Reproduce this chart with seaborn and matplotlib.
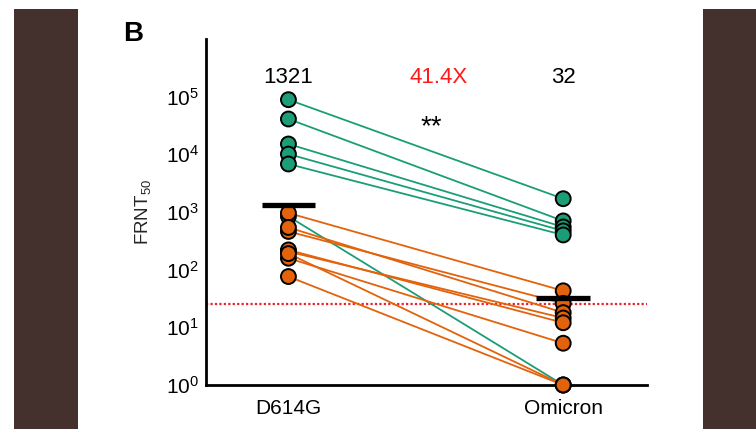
import matplotlib
matplotlib.use("Agg")
import matplotlib.pyplot as plt
from matplotlib.patches import Rectangle
import numpy as np
import pandas as pd
import seaborn as sns

# Paired FRNT50 titres per subject (D614G -> Omicron)
variants = ["D614G", "Omicron"]
group_a_d614g = [88700, 41000, 15100, 10100, 6800, 840]
group_a_omicron = [1700, 700, 550, 470, 400, 1]
group_b_d614g = [960, 460, 540, 206, 220, 158, 190, 76]
group_b_omicron = [43, 26, 18, 14.5, 12, 5.3, 1, 1]
group_mean = [1321, 32]
mean_labels = ["1321", "32"]
fold_label = "41.4X"
sig_label = "**"
detection_limit = 25
ytick_exps = [0, 1, 2, 3, 4, 5]

green = "#1b9e77"
orange = "#e3620c"

rows = []
sid = 0
for grp, d, o in (("A", group_a_d614g, group_a_omicron),
                  ("B", group_b_d614g, group_b_omicron)):
    for a, b in zip(d, o):
        rows.append(dict(subject=sid, group=grp, variant=variants[0], pos=0, value=a))
        rows.append(dict(subject=sid, group=grp, variant=variants[1], pos=1, value=b))
        sid += 1
df = pd.DataFrame(rows)

sns.set_theme(style="white")
plt.rcParams["font.family"] = ["Liberation Sans", "DejaVu Sans"]
plt.rcParams["mathtext.fontset"] = "custom"
plt.rcParams["mathtext.rm"] = "Liberation Sans"
plt.rcParams["mathtext.it"] = "Liberation Sans:italic"
plt.rcParams["mathtext.bf"] = "Liberation Sans:bold"

W, H = 756, 429
fig = plt.figure(figsize=(W / 100, H / 100), dpi=100)
fig.patch.set_facecolor("white")

# dark side panels
for x0, x1 in ((14, 78), (703, 756)):
    fig.add_artist(Rectangle((x0 / W, 0), (x1 - x0) / W, (H - 9) / H,
                             transform=fig.transFigure, color="#44312e", lw=0, zorder=0))

ax = fig.add_axes([206 / W, 1 - 385 / H, (647 - 206) / W, (385 - 39) / H])
ax.set_facecolor("white")

palette = {"A": green, "B": orange}
sns.lineplot(data=df, x="pos", y="value", units="subject", estimator=None,
             hue="group", palette=palette, lw=1.3, legend=False, ax=ax, zorder=2)
sns.scatterplot(data=df, x="pos", y="value", hue="group", palette=palette,
                s=115, edgecolor="black", linewidth=1.4, legend=False, ax=ax,
                zorder=3, clip_on=False)

ax.set_yscale("log")
ax.set_ylim(1, 1e6)
ax.set_xlim(-0.3, 1.305)

# mean bars
ax.hlines(group_mean, [p - 0.098 for p in (0, 1)], [p + 0.098 for p in (0, 1)],
          color="black", lw=3.8, zorder=4)
# detection limit
ax.axhline(detection_limit, color="#e8212a", lw=1.6, ls=(0, (1, 1)), zorder=1)

ax.set_yticks([10.0 ** e for e in ytick_exps])
ax.set_yticklabels([r"$\mathregular{10^{%d}}$" % e for e in ytick_exps])
ax.yaxis.set_minor_locator(matplotlib.ticker.NullLocator())
ax.set_xticks([0, 1])
ax.set_xticklabels(variants)
ax.tick_params(axis="both", direction="in", length=5, width=1.6, colors="black",
               labelsize=15, pad=5)
ax.tick_params(axis="x", pad=10)
ax.set_xlabel("")
ax.set_ylabel(r"FRNT$_{50}$", fontsize=13.5, labelpad=9)

for s in ("top", "right"):
    ax.spines[s].set_visible(False)
for s in ("left", "bottom"):
    ax.spines[s].set_color("black")
    ax.spines[s].set_linewidth(2)

ytext = 10 ** ((385 - 78) / 57.6)
ax.text(0, ytext, mean_labels[0], ha="center", va="center", fontsize=16, color="black")
ax.text(1, ytext, mean_labels[1], ha="center", va="center", fontsize=16, color="black")
ax.text(0.545, ytext, fold_label, ha="center", va="center", fontsize=16, color="#ff1a1a")
ax.text(0.52, 10 ** ((385 - 128) / 57.6), sig_label, ha="center", va="center",
        fontsize=20, color="black")

fig.text(123 / W, 1 - 34 / H, "B", ha="left", va="center", fontsize=20,
         fontweight="bold", color="black")

fig.savefig("out.png", dpi=100, facecolor="white")
